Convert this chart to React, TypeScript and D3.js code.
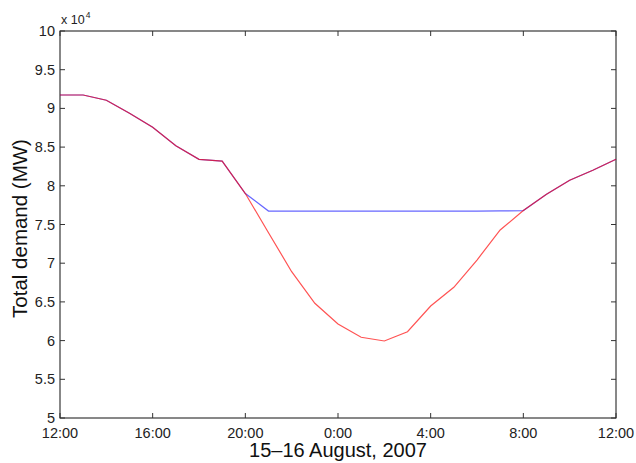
import React, {useEffect, useRef} from 'react';
import * as d3 from 'd3';

// hourly samples, 15 Aug 2007 12:00 -> 16 Aug 2007 12:00
const hours = [
    12, 13, 14, 15, 16, 17, 18, 19, 20, 21, 22, 23,
    24, 25, 26, 27, 28, 29, 30, 31, 32, 33, 34, 35, 36
];

// demand without the event (red)
const actualDemand = [
    91730, 91730, 91050, 89370, 87560, 85180, 83420, 83200, 79000, 73940, 68900, 64820,
    62140, 60430, 59950, 61150, 64470, 66890, 70410, 74290, 76800, 78900, 80710, 82000, 83420
];

// capped demand (blue)
const cappedDemand = [
    91730, 91730, 91050, 89370, 87560, 85180, 83420, 83200, 79000, 76740, 76740, 76740,
    76740, 76740, 76740, 76740, 76740, 76740, 76740, 76750, 76800, 78900, 80710, 82000, 83420
];

const yTicks = [50000, 55000, 60000, 65000, 70000, 75000, 80000, 85000, 90000, 95000, 100000];

const xLabel = '15\u201316 August, 2007';
const yLabel = 'Total demand (MW)';

const font = '"Liberation Sans", Arial, Helvetica, sans-serif';

export default function App() {
    const svgRef = useRef<SVGSVGElement>(null);

    useEffect(() => {
        const width = 636;
        const height = 463;
        const margin = {top: 31, right: 20, bottom: 45, left: 60};

        const svg = d3.select(svgRef.current)
            .attr('width', width)
            .attr('height', height);
        svg.selectAll('*').remove();

        const dates = hours.map(h => new Date(2007, 7, 15, h));

        const xScale = d3.scaleTime()
            .domain([dates[0], dates[dates.length - 1]])
            .range([margin.left, width - margin.right]);
        const yScale = d3.scaleLinear()
            .domain([50000, 100000])
            .range([height - margin.bottom, margin.top]);

        const xTickValues = d3.timeHour.every(4)!.range(dates[0], d3.timeMinute.offset(dates[dates.length - 1], 1));
        const fmt = d3.timeFormat('%-H:%M');

        const g = svg.append('g');

        // box
        g.append('rect')
            .attr('x', margin.left)
            .attr('y', margin.top)
            .attr('width', width - margin.left - margin.right)
            .attr('height', height - margin.top - margin.bottom)
            .attr('fill', 'white')
            .attr('stroke', '#111')
            .attr('stroke-width', 1);

        const tickLen = 5;
        const y0 = yScale.range()[0];
        const y1 = yScale.range()[1];
        const x0 = xScale.range()[0];
        const x1 = xScale.range()[1];

        // x ticks (inward, bottom and top)
        xTickValues.forEach(d => {
            const x = xScale(d);
            g.append('line').attr('x1', x).attr('x2', x).attr('y1', y0).attr('y2', y0 - tickLen)
                .attr('stroke', '#333');
            g.append('line').attr('x1', x).attr('x2', x).attr('y1', y1).attr('y2', y1 + tickLen)
                .attr('stroke', '#333');
            g.append('text')
                .attr('x', x)
                .attr('y', y0 + 19.5)
                .attr('text-anchor', 'middle')
                .attr('font-family', font)
                .attr('font-size', 14.5)
                .attr('fill', '#222')
                .text(fmt(d));
        });

        // y ticks (inward, left and right)
        yTicks.forEach(v => {
            const y = yScale(v);
            g.append('line').attr('x1', x0).attr('x2', x0 + tickLen).attr('y1', y).attr('y2', y)
                .attr('stroke', '#333');
            g.append('line').attr('x1', x1).attr('x2', x1 - tickLen).attr('y1', y).attr('y2', y)
                .attr('stroke', '#333');
            g.append('text')
                .attr('x', x0 - 5)
                .attr('y', y)
                .attr('dy', '0.35em')
                .attr('text-anchor', 'end')
                .attr('font-family', font)
                .attr('font-size', 14.5)
                .attr('fill', '#222')
                .text(d3.format('~g')(v / 10000));
        });

        // exponent label
        const exp = g.append('text')
            .attr('x', x0 + 1)
            .attr('y', y1 - 7)
            .attr('font-family', font)
            .attr('font-size', 12.5)
            .attr('fill', '#222');
        exp.append('tspan').text('x 10');
        exp.append('tspan').attr('dx', 1).attr('dy', -6).attr('font-size', 8.5).text('4');

        const line = d3.line<number>()
            .x((d, i) => xScale(dates[i]))
            .y(d => yScale(d));

        g.append('path')
            .datum(cappedDemand)
            .attr('fill', 'none')
            .attr('stroke', '#0000ff')
            .attr('stroke-opacity', 0.6)
            .attr('stroke-width', 1.2)
            .attr('d', line);

        g.append('path')
            .datum(actualDemand)
            .attr('fill', 'none')
            .attr('stroke', '#ff0000')
            .attr('stroke-opacity', 0.68)
            .attr('stroke-width', 1.2)
            .attr('d', line);

        // axis labels
        svg.append('text')
            .attr('x', (x0 + x1) / 2)
            .attr('y', height - 6)
            .attr('text-anchor', 'middle')
            .attr('font-family', font)
            .attr('font-size', 20)
            .attr('fill', '#111')
            .text(xLabel);

        svg.append('text')
            .attr('transform', `translate(27, ${(y0 + y1) / 2 + 4}) rotate(-90)`)
            .attr('text-anchor', 'middle')
            .attr('font-family', font)
            .attr('font-size', 20.5)
            .attr('fill', '#111')
            .text(yLabel);
    }, []);

    return (
        <svg ref={svgRef} style={{position: 'absolute', left: 0, top: 0, background: 'white'}}/>
    );
}
